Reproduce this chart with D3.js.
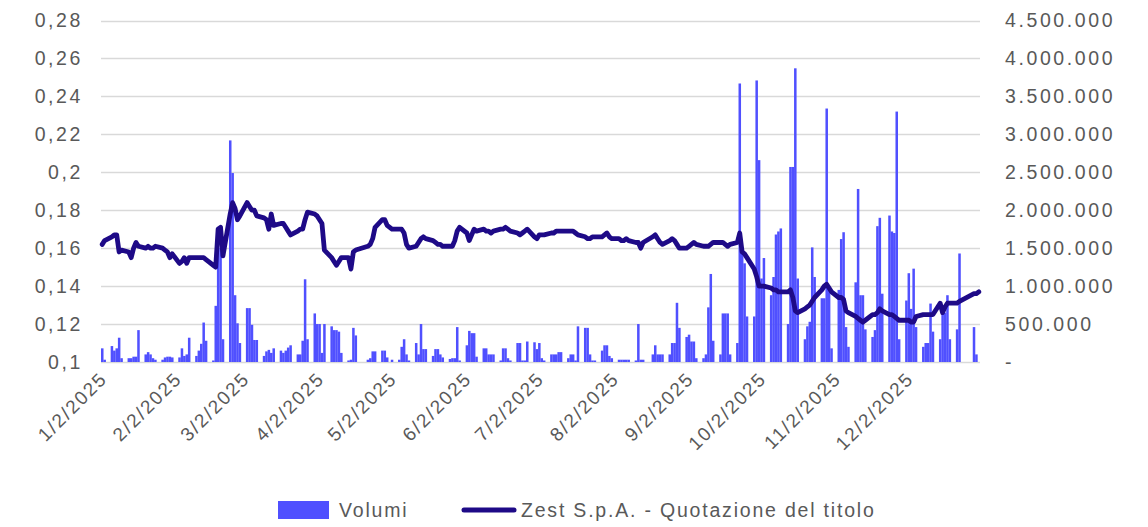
<!DOCTYPE html>
<html lang="it">
<head>
<meta charset="UTF-8">
<title>Zest S.p.A. - Volumi e quotazione</title>
<script src="https://cdn.jsdelivr.net/npm/d3@7"></script>
<style>
    body { margin: 0; background: #ffffff; }
    text { font-family: "Liberation Sans", Arial, sans-serif; fill: #595959; }
</style>
</head>
<body>
<div id="chart"></div>
<script>
// Borsa Italiana closing days in 2025 (weekdays)
const holidays = ['2025-04-18', '2025-04-21', '2025-05-01', '2025-08-15', '2025-12-24', '2025-12-25', '2025-12-26'];

// daily volumes, thousands of shares, one row per week
const volumeWeeks = [
    [180, 30],
    [210, 150, 180, 320, 50],
    [50, 50, 70, 70, 420],
    [100, 130, 100, 50, 30],
    [30, 60, 70, 70, 60],
    [60, 180, 80, 100, 320],
    [80, 150, 240, 520, 280],
    [20, 740, 1780, 1500, 300],
    [2920, 2490, 880, 510, 250],
    [710, 710, 490, 290, 290],
    [80, 140, 160, 120, 180],
    [150, 120, 150, 190, 220],
    [100, 100, 280, 1090, 300],
    [640, 500, 500, 120, 500],
    [470, 420, 420, 400, 120],
    [20, 30, 450, 350],
    [30, 50, 140, 140],
    [150, 150, 60, 30],
    [30, 200, 300, 100, 20],
    [250, 100, 500, 170, 170],
    [80, 170, 170, 100, 60],
    [40, 50, 50, 460, 20],
    [220, 410, 380, 380, 70],
    [180, 180, 100, 100, 100],
    [20, 180, 180, 50, 20],
    [250, 250, 20, 20, 270],
    [260, 170, 250, 50, 20],
    [100, 100, 100, 130, 130],
    [50, 100, 100, 20, 470],
    [450, 450, 100, 20, 20],
    [150, 220, 220, 80, 50],
    [30, 30, 30, 30, 30],
    [20, 500, 30, 30],
    [100, 220, 100, 100, 100],
    [100, 250, 250, 780, 450],
    [330, 360, 270, 270, 50],
    [50, 100, 720, 1160, 280],
    [100, 640, 640, 640, 100],
    [250, 3670, 1430, 1300, 600],
    [600, 3710, 2660, 1100, 1370],
    [880, 1120, 1680, 1720, 1760],
    [500, 2570, 2570, 3870, 1100],
    [300, 470, 530, 1510, 1120],
    [840, 840, 3340, 1000, 180],
    [950, 1620, 1710, 460, 200],
    [1050, 2280, 880, 880, 430],
    [330, 420, 1790, 1900, 900],
    [1930, 1720, 1700, 3300, 300],
    [810, 1170, 700, 1230, 460],
    [200, 250, 250, 770, 400],
    [300, 650, 650, 880, 300],
    [430, 1430],
    [460, 100, 0]
];

// daily closing price, euro, one row per week
const priceWeeks = [
    [0.162, 0.164],
    [0.166, 0.167, 0.167, 0.158, 0.159],
    [0.158, 0.155, 0.160, 0.163, 0.161],
    [0.160, 0.161, 0.160, 0.160, 0.161],
    [0.160, 0.159, 0.158, 0.155, 0.157],
    [0.152, 0.153, 0.155, 0.152, 0.155],
    [0.155, 0.155, 0.155, 0.155, 0.154],
    [0.151, 0.150, 0.170, 0.171, 0.156],
    [0.178, 0.184, 0.181, 0.175, 0.177],
    [0.184, 0.182, 0.180, 0.180, 0.177],
    [0.176, 0.175, 0.170, 0.178, 0.172],
    [0.173, 0.173, 0.171, 0.169, 0.167],
    [0.169, 0.170, 0.170, 0.175, 0.179],
    [0.178, 0.177, 0.175, 0.173, 0.159],
    [0.155, 0.153, 0.151, 0.153, 0.155],
    [0.155, 0.149, 0.158, 0.159],
    [0.161, 0.162, 0.165, 0.171],
    [0.175, 0.175, 0.172, 0.170],
    [0.170, 0.170, 0.168, 0.162, 0.160],
    [0.161, 0.163, 0.165, 0.166, 0.165],
    [0.164, 0.163, 0.162, 0.162, 0.161],
    [0.161, 0.161, 0.164, 0.169, 0.171],
    [0.168, 0.164, 0.167, 0.170, 0.169],
    [0.170, 0.169, 0.169, 0.168, 0.169],
    [0.170, 0.170, 0.171, 0.170, 0.169],
    [0.168, 0.167, 0.168, 0.169, 0.170],
    [0.166, 0.165, 0.167, 0.167, 0.167],
    [0.168, 0.168, 0.169, 0.169, 0.169],
    [0.169, 0.169, 0.169, 0.168, 0.167],
    [0.166, 0.165, 0.165, 0.166, 0.166],
    [0.166, 0.167, 0.168, 0.166, 0.165],
    [0.165, 0.164, 0.164, 0.165, 0.164],
    [0.163, 0.163, 0.160, 0.163],
    [0.166, 0.167, 0.165, 0.163, 0.162],
    [0.164, 0.165, 0.164, 0.162, 0.160],
    [0.160, 0.161, 0.162, 0.163, 0.162],
    [0.161, 0.161, 0.161, 0.162, 0.163],
    [0.163, 0.163, 0.162, 0.161, 0.162],
    [0.163, 0.168, 0.158, 0.157, 0.155],
    [0.149, 0.145, 0.140, 0.140, 0.140],
    [0.139, 0.138, 0.138, 0.137, 0.137],
    [0.137, 0.138, 0.134, 0.127, 0.126],
    [0.128, 0.129, 0.130, 0.132, 0.134],
    [0.138, 0.140, 0.141, 0.139, 0.137],
    [0.134, 0.134, 0.133, 0.127, 0.126],
    [0.124, 0.123, 0.122, 0.121, 0.122],
    [0.125, 0.125, 0.126, 0.128, 0.127],
    [0.125, 0.125, 0.124, 0.123, 0.122],
    [0.122, 0.122, 0.121, 0.121, 0.124],
    [0.125, 0.125, 0.125, 0.125, 0.125],
    [0.131, 0.126, 0.129, 0.131, 0.131],
    [0.131, 0.132],
    [0.136, 0.136, 0.137]
];

const monthTicks = ['1/2/2025', '2/2/2025', '3/2/2025', '4/2/2025', '5/2/2025', '6/2/2025',
    '7/2/2025', '8/2/2025', '9/2/2025', '10/2/2025', '11/2/2025', '12/2/2025'];
const priceTicks = [0.1, 0.12, 0.14, 0.16, 0.18, 0.2, 0.22, 0.24, 0.26, 0.28];
const volumeTicks = [0, 500000, 1000000, 1500000, 2000000, 2500000, 3000000, 3500000, 4000000, 4500000];

const seriesNames = ['Volumi', 'Zest S.p.A. - Quotazione del titolo'];

// --------------------------------------------------------------------

const width = 1148;
const height = 527;
const plot = { left: 101, right: 980, top: 20.5, bottom: 362 };

const barColor = '#5050ff';
const lineColor = '#1e0a87';
const gridColor = '#d9d9d9';

const parseMdy = d3.timeParse('%m/%d/%Y');
const holidaySet = new Set(holidays);
const fmtIso = d3.timeFormat('%Y-%m-%d');

const tradingDays = d3.timeDay
    .range(new Date(2025, 0, 2), new Date(2026, 0, 1))
    .filter(d => d.getDay() !== 0 && d.getDay() !== 6 && !holidaySet.has(fmtIso(d)));

const volumes = volumeWeeks.flat();
const prices = priceWeeks.flat();
if (volumes.length !== tradingDays.length || prices.length !== tradingDays.length) {
    console.warn('length mismatch', tradingDays.length, volumes.length, prices.length);
}

const data = tradingDays.map((d, i) => ({
    date: d,
    volume: (volumes[i] || 0) * 1000,
    price: prices[i]
}));

const locale = d3.formatLocale({ decimal: ',', thousands: '.', grouping: [3], currency: ['€', ''] });
const fmtPrice = locale.format('.2~f');
const fmtVolume = locale.format(',.0f');

const svg = d3.select('#chart')
    .append('svg')
    .attr('width', width)
    .attr('height', height);

const x = d3.scaleTime()
    .domain([new Date(2025, 0, 1, 12), new Date(2025, 11, 31, 12)])
    .range([plot.left, plot.right]);

const yPrice = d3.scaleLinear()
    .domain([0.1, 0.28])
    .range([plot.bottom, plot.top]);

const yVolume = d3.scaleLinear()
    .domain([0, 4500000])
    .range([plot.bottom, plot.top]);

const dayWidth = x(new Date(2025, 5, 2)) - x(new Date(2025, 5, 1));

// gridlines
svg.append('g')
    .selectAll('line')
    .data(priceTicks)
    .join('line')
    .attr('x1', plot.left)
    .attr('x2', plot.right)
    .attr('y1', d => Math.round(yPrice(d)) + 0.5)
    .attr('y2', d => Math.round(yPrice(d)) + 0.5)
    .attr('stroke', gridColor)
    .attr('stroke-width', 1.4);

// volume bars
svg.append('g')
    .selectAll('rect')
    .data(data)
    .join('rect')
    .attr('x', d => x(d.date) - dayWidth / 2)
    .attr('width', dayWidth + 0.1)
    .attr('y', d => yVolume(d.volume))
    .attr('height', d => plot.bottom - yVolume(d.volume))
    .attr('fill', barColor);

// price line
const line = d3.line()
    .x(d => x(d.date))
    .y(d => yPrice(d.price));

svg.append('path')
    .datum(data)
    .attr('d', line)
    .attr('fill', 'none')
    .attr('stroke', lineColor)
    .attr('stroke-width', 4.8)
    .attr('stroke-linejoin', 'round')
    .attr('stroke-linecap', 'round');

// left axis
const leftAxis = svg.append('g')
    .attr('transform', `translate(${plot.left},0)`)
    .call(d3.axisLeft(yPrice).tickValues(priceTicks).tickFormat(fmtPrice).tickSize(0).tickPadding(18));
leftAxis.select('.domain').remove();
leftAxis.selectAll('text')
    .attr('font-size', 19.5)
    .attr('letter-spacing', 2.6)
    .attr('fill', '#595959');

// right axis
const rightAxis = svg.append('g')
    .attr('transform', `translate(${plot.right},0)`)
    .call(d3.axisRight(yVolume).tickValues(volumeTicks)
        .tickFormat(d => d === 0 ? '-' : fmtVolume(d)).tickSize(0).tickPadding(25));
rightAxis.select('.domain').remove();
rightAxis.selectAll('text')
    .attr('font-size', 19.5)
    .attr('letter-spacing', 2.6)
    .attr('fill', '#595959');

// x labels, rotated
svg.append('g')
    .selectAll('text')
    .data(monthTicks)
    .join('text')
    .attr('transform', d => `translate(${x(parseMdy(d)) + 6},380) rotate(-45)`)
    .attr('text-anchor', 'end')
    .attr('font-size', 19)
    .attr('letter-spacing', 1.8)
    .text(d => d);

// legend
const legend = svg.append('g');
legend.append('rect')
    .attr('x', 278)
    .attr('y', 501)
    .attr('width', 51)
    .attr('height', 18)
    .attr('fill', barColor);
legend.append('text')
    .attr('x', 339)
    .attr('y', 517)
    .attr('font-size', 19.5)
    .attr('letter-spacing', 1.8)
    .text(seriesNames[0]);
legend.append('line')
    .attr('x1', 464)
    .attr('x2', 514)
    .attr('y1', 510)
    .attr('y2', 510)
    .attr('stroke', lineColor)
    .attr('stroke-width', 5)
    .attr('stroke-linecap', 'round');
legend.append('text')
    .attr('x', 521)
    .attr('y', 517)
    .attr('font-size', 19.5)
    .attr('letter-spacing', 1.8)
    .text(seriesNames[1]);
</script>
</body>
</html>
